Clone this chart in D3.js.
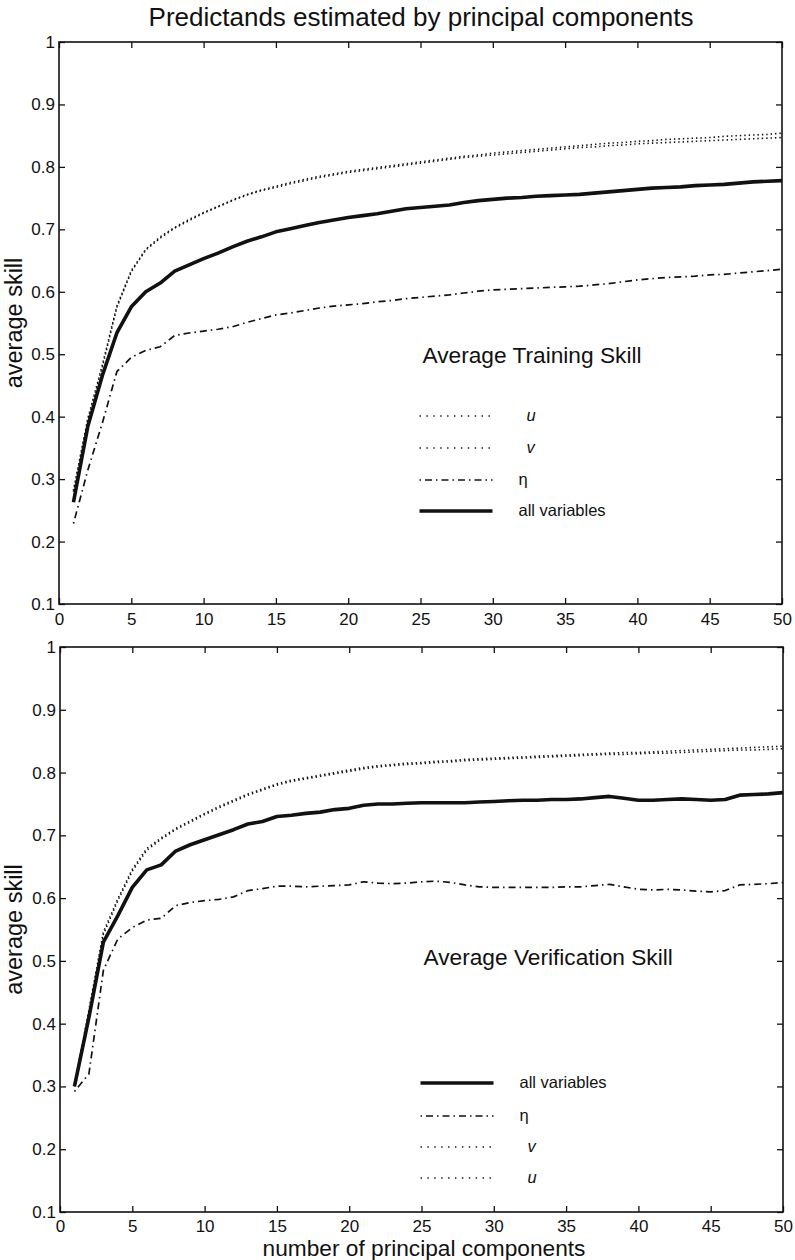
<!DOCTYPE html>
<html>
<head>
<meta charset="utf-8">
<script src="https://cdn.jsdelivr.net/npm/d3@7"></script>
<style>
  body { margin: 0; background: #fff; }
  text { font-family: "Liberation Sans", Arial, Helvetica, sans-serif; fill: #111; }
</style>
</head>
<body>
<div id="chart"></div>
<script>
// number of principal components, 1..50
var nPC = d3.range(1, 51);

// average training skill
var trainU = [0.280, 0.395, 0.480, 0.575, 0.632, 0.667, 0.686, 0.702, 0.714, 0.726,
              0.736, 0.746, 0.755, 0.762, 0.767, 0.773, 0.778, 0.783, 0.787, 0.791,
              0.794, 0.797, 0.800, 0.803, 0.806, 0.809, 0.812, 0.815, 0.817, 0.819,
              0.821, 0.823, 0.825, 0.827, 0.829, 0.831, 0.832, 0.834, 0.835, 0.837,
              0.838, 0.839, 0.840, 0.841, 0.842, 0.843, 0.844, 0.845, 0.846, 0.847];
var trainV = [0.282, 0.398, 0.483, 0.577, 0.634, 0.668, 0.688, 0.703, 0.716, 0.727,
              0.737, 0.747, 0.756, 0.763, 0.769, 0.775, 0.780, 0.785, 0.789, 0.793,
              0.796, 0.799, 0.802, 0.805, 0.808, 0.811, 0.814, 0.817, 0.819, 0.822,
              0.824, 0.826, 0.828, 0.830, 0.832, 0.834, 0.836, 0.838, 0.839, 0.841,
              0.842, 0.844, 0.845, 0.846, 0.847, 0.849, 0.850, 0.851, 0.852, 0.854];
var trainEta = [0.229, 0.315, 0.390, 0.472, 0.495, 0.506, 0.512, 0.530, 0.534, 0.537,
                0.540, 0.544, 0.551, 0.557, 0.563, 0.566, 0.570, 0.574, 0.577, 0.579,
                0.581, 0.584, 0.586, 0.589, 0.591, 0.593, 0.595, 0.598, 0.601, 0.603,
                0.604, 0.605, 0.606, 0.607, 0.608, 0.609, 0.611, 0.613, 0.616, 0.619,
                0.621, 0.623, 0.624, 0.625, 0.627, 0.628, 0.630, 0.632, 0.634, 0.636];
var trainAll = [0.263, 0.385, 0.466, 0.534, 0.576, 0.600, 0.614, 0.633, 0.643, 0.653,
                0.662, 0.672, 0.681, 0.688, 0.696, 0.701, 0.706, 0.711, 0.715, 0.719,
                0.722, 0.725, 0.729, 0.733, 0.735, 0.737, 0.739, 0.743, 0.746, 0.748,
                0.750, 0.751, 0.753, 0.754, 0.755, 0.756, 0.758, 0.760, 0.762, 0.764,
                0.766, 0.767, 0.768, 0.770, 0.771, 0.772, 0.774, 0.776, 0.777, 0.778];

// average verification skill
var verU = [0.300, 0.418, 0.542, 0.596, 0.643, 0.676, 0.694, 0.709, 0.721, 0.733,
            0.744, 0.754, 0.764, 0.772, 0.780, 0.786, 0.790, 0.794, 0.798, 0.802,
            0.806, 0.809, 0.811, 0.813, 0.814, 0.816, 0.817, 0.819, 0.820, 0.821,
            0.822, 0.823, 0.824, 0.825, 0.826, 0.827, 0.828, 0.829, 0.829, 0.830,
            0.831, 0.831, 0.832, 0.833, 0.834, 0.835, 0.836, 0.836, 0.837, 0.838];
var verV = [0.302, 0.422, 0.546, 0.599, 0.646, 0.679, 0.696, 0.711, 0.723, 0.735,
            0.746, 0.756, 0.766, 0.774, 0.782, 0.788, 0.792, 0.796, 0.800, 0.804,
            0.808, 0.811, 0.813, 0.815, 0.816, 0.818, 0.819, 0.821, 0.822, 0.823,
            0.824, 0.825, 0.826, 0.827, 0.828, 0.829, 0.830, 0.831, 0.832, 0.832,
            0.833, 0.834, 0.835, 0.836, 0.837, 0.838, 0.839, 0.840, 0.841, 0.842];
var verEta = [0.292, 0.320, 0.485, 0.535, 0.553, 0.565, 0.568, 0.588, 0.593, 0.596,
              0.598, 0.602, 0.612, 0.615, 0.619, 0.619, 0.618, 0.619, 0.620, 0.621,
              0.626, 0.624, 0.623, 0.624, 0.626, 0.627, 0.625, 0.621, 0.618, 0.617,
              0.617, 0.617, 0.617, 0.617, 0.618, 0.618, 0.620, 0.622, 0.618, 0.614,
              0.613, 0.614, 0.613, 0.611, 0.610, 0.612, 0.621, 0.622, 0.623, 0.625];
var verAll = [0.300, 0.410, 0.530, 0.572, 0.617, 0.645, 0.653, 0.675, 0.685, 0.693,
              0.701, 0.709, 0.718, 0.722, 0.730, 0.732, 0.735, 0.737, 0.741, 0.743,
              0.748, 0.750, 0.750, 0.751, 0.752, 0.752, 0.752, 0.752, 0.753, 0.754,
              0.755, 0.756, 0.756, 0.757, 0.757, 0.758, 0.760, 0.762, 0.759, 0.756,
              0.756, 0.757, 0.758, 0.757, 0.756, 0.757, 0.764, 0.765, 0.766, 0.768];

var xTicks = d3.range(0, 51, 5);
var yTicks = [0.1, 0.2, 0.3, 0.4, 0.5, 0.6, 0.7, 0.8, 0.9, 1];

var width = 795, height = 1260;

var svg = d3.select("#chart").append("svg")
    .attr("width", width)
    .attr("height", height)
    .style("background", "#fff");

// line styles for each series (legend dots are sparser, as in the print)
var styles = {
    u:   {width: 1.6, dash: "1.4,3", legDash: "1.4,5.5"},
    v:   {width: 1.6, dash: "1.4,3", legDash: "1.4,5.5"},
    eta: {width: 1.7, dash: "1.5,4,7,4", legDash: "1.5,4,7,4"},
    all: {width: 3.6, dash: null, legDash: null}
};

svg.append("text")
    .attr("x", 421)
    .attr("y", 26)
    .attr("text-anchor", "middle")
    .style("font-size", "26px")
    .text("Predictands estimated by principal components");

drawPanel({
    left: 59, right: 782, top: 42, bottom: 604, pad: 9,
    series: [{key: "u", values: trainU}, {key: "v", values: trainV},
             {key: "eta", values: trainEta}, {key: "all", values: trainAll}],
    title: "Average Training Skill", titleY: 363,
    legend: [{key: "u", label: "u", italic: true, y: 416},
             {key: "v", label: "v", italic: true, y: 448},
             {key: "eta", label: "η", y: 480},
             {key: "all", label: "all variables", y: 511}]
});

drawPanel({
    left: 60, right: 783, top: 647, bottom: 1212, pad: 8,
    series: [{key: "u", values: verU}, {key: "v", values: verV},
             {key: "eta", values: verEta}, {key: "all", values: verAll}],
    title: "Average Verification Skill", titleY: 965,
    legend: [{key: "all", label: "all variables", y: 1083},
             {key: "eta", label: "η", y: 1116},
             {key: "v", label: "v", italic: true, y: 1147},
             {key: "u", label: "u", italic: true, y: 1178}]
});

svg.append("text")
    .attr("x", 424)
    .attr("y", 1256)
    .attr("text-anchor", "middle")
    .style("font-size", "22.7px")
    .text("number of principal components");

function drawPanel(p) {
    var x = d3.scaleLinear().domain([0, 50]).range([p.left, p.right]);
    var y = d3.scaleLinear().domain([0.1, 1]).range([p.bottom, p.top]);
    var g = svg.append("g");

    // inward ticks on all four sides, like a matlab box
    g.append("g")
        .attr("transform", "translate(0," + p.bottom + ")")
        .call(d3.axisBottom(x).tickValues(xTicks).tickSizeInner(-6).tickSizeOuter(0).tickPadding(p.pad))
        .call(styleAxis);
    g.append("g")
        .attr("transform", "translate(0," + p.top + ")")
        .call(d3.axisTop(x).tickValues(xTicks).tickSizeInner(-6).tickSizeOuter(0).tickFormat(""))
        .call(styleAxis);
    g.append("g")
        .attr("transform", "translate(" + p.left + ",0)")
        .call(d3.axisLeft(y).tickValues(yTicks).tickSizeInner(-6).tickSizeOuter(0).tickPadding(4)
            .tickFormat(function(d) { return d === 1 ? "1" : d3.format(".1f")(d); }))
        .call(styleAxis);
    g.append("g")
        .attr("transform", "translate(" + p.right + ",0)")
        .call(d3.axisRight(y).tickValues(yTicks).tickSizeInner(-6).tickSizeOuter(0).tickFormat(""))
        .call(styleAxis);

    g.append("rect")
        .attr("x", p.left).attr("y", p.top)
        .attr("width", p.right - p.left).attr("height", p.bottom - p.top)
        .attr("fill", "none").attr("stroke", "#111").attr("stroke-width", 1.6);

    var line = d3.line()
        .x(function(d, i) { return x(nPC[i]); })
        .y(function(d) { return y(d); });

    p.series.forEach(function(s) {
        g.append("path")
            .datum(s.values)
            .attr("d", line)
            .attr("fill", "none")
            .attr("stroke", "#111")
            .attr("stroke-width", styles[s.key].width)
            .attr("stroke-dasharray", styles[s.key].dash)
            .attr("stroke-linejoin", "round");
    });

    g.append("text")
        .attr("x", x(25) + 2)
        .attr("y", p.titleY)
        .style("font-size", "22.7px")
        .text(p.title);

    var lx0 = x(25) - 1, lx1 = x(25) + 72;
    p.legend.forEach(function(l) {
        g.append("line")
            .attr("x1", lx0).attr("x2", lx1)
            .attr("y1", l.y).attr("y2", l.y)
            .attr("stroke", "#111")
            .attr("stroke-width", styles[l.key].width)
            .attr("stroke-dasharray", styles[l.key].legDash);
        g.append("text")
            .attr("x", l.italic ? lx1 + 34 : lx1 + 26)
            .attr("y", l.y + 5)
            .style("font-size", "16.5px")
            .style("font-style", l.italic ? "italic" : "normal")
            .text(l.label);
    });

    // y label
    g.append("text")
        .attr("transform", "translate(22," + ((p.top + p.bottom) / 2) + ") rotate(-90)")
        .attr("text-anchor", "middle")
        .style("font-size", "23.5px")
        .text("average skill");
}

function styleAxis(sel) {
    sel.select(".domain").remove();
    sel.selectAll(".tick line").attr("stroke", "#111").attr("stroke-width", 1.3);
    sel.selectAll(".tick text")
        .style("font-size", "17px")
        .attr("fill", "#111");
}
</script>
</body>
</html>
